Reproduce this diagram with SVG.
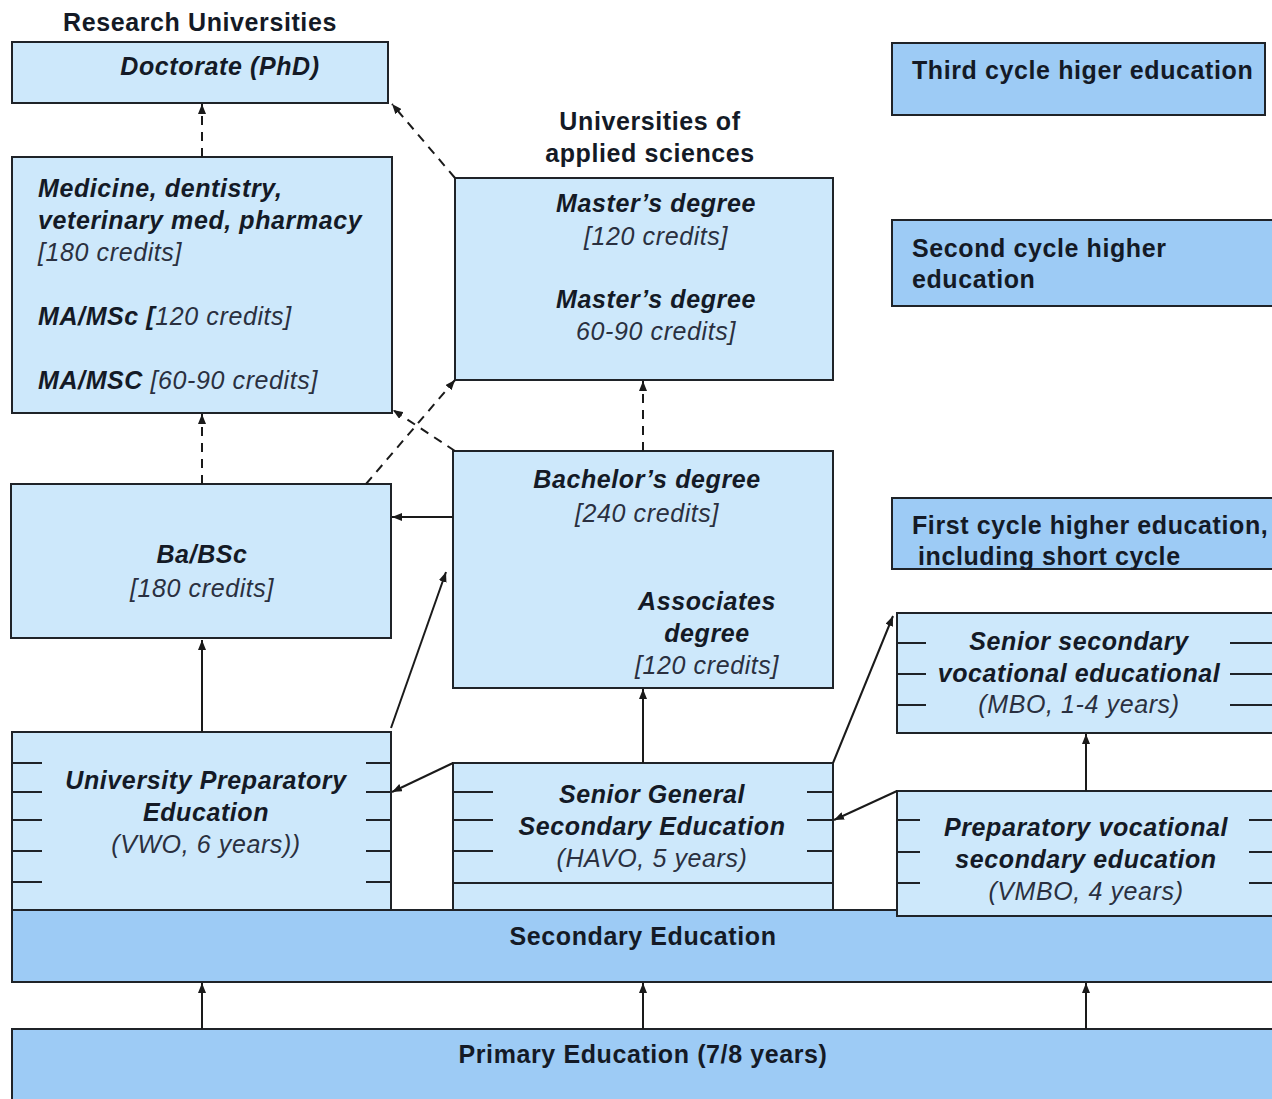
<svg xmlns="http://www.w3.org/2000/svg" width="1272" height="1099" viewBox="0 0 1272 1099">
<defs>
<style>
.lb{fill:#cde8fb;stroke:#1f2328;stroke-width:2}
.db{fill:#9dcbf5;stroke:#1f2328;stroke-width:2}
.t{font-family:"Liberation Sans",Arial,sans-serif;font-size:25px;letter-spacing:0.6px;fill:#141a26}
.bi{font-weight:bold;font-style:italic}
.i{font-style:italic;fill:#2a3040}
.b{font-weight:bold}
.m{text-anchor:middle}
.tick{stroke:#1f2328;stroke-width:2}
.c{stroke:#1a1a1a;stroke-width:2;fill:none;marker-end:url(#ah)}
.d{stroke-dasharray:9,7}
</style>
<marker id="ah" markerUnits="userSpaceOnUse" markerWidth="10" markerHeight="8" refX="10" refY="4" orient="auto">
<path d="M0,0 L10,4 L0,8 z" fill="#1a1a1a"/>
</marker>
</defs>
<rect width="1272" height="1099" fill="#fff"/>

<text class="t b m" x="200" y="31">Research Universities</text>
<text class="t b m" x="650" y="130">Universities of</text>
<text class="t b m" x="650" y="162">applied sciences</text>

<g id="doctorate">
<rect class="lb" x="12" y="42" width="376" height="61"/>
<text class="t bi m" x="220" y="75">Doctorate (PhD)</text>
</g>

<g id="medicine">
<rect class="lb" x="12" y="157" width="380" height="256"/>
<text class="t bi" x="38" y="197">Medicine, dentistry,</text>
<text class="t bi" x="38" y="229">veterinary med, pharmacy</text>
<text class="t i" x="38" y="261">[180 credits]</text>
<text class="t" x="38" y="325"><tspan class="bi">MA/MSc [</tspan><tspan class="i">120 credits]</tspan></text>
<text class="t" x="38" y="389"><tspan class="bi">MA/MSC</tspan><tspan class="i"> [60-90 credits]</tspan></text>
</g>

<g id="masters">
<rect class="lb" x="455" y="178" width="378" height="202"/>
<text class="t bi m" x="656" y="212">Master’s degree</text>
<text class="t i m" x="656" y="245">[120 credits]</text>
<text class="t bi m" x="656" y="308">Master’s degree</text>
<text class="t i m" x="656" y="340">60-90 credits]</text>
</g>

<g id="babsc">
<rect class="lb" x="11" y="484" width="380" height="154"/>
<text class="t bi m" x="202" y="563">Ba/BSc</text>
<text class="t i m" x="202" y="597">[180 credits]</text>
</g>

<g id="bachelor">
<rect class="lb" x="453" y="451" width="380" height="237"/>
<text class="t bi m" x="647" y="488">Bachelor’s degree</text>
<text class="t i m" x="647" y="522">[240 credits]</text>
<text class="t bi m" x="707" y="610">Associates</text>
<text class="t bi m" x="707" y="642">degree</text>
<text class="t i m" x="707" y="674">[120 credits]</text>
</g>

<g id="third-cycle">
<rect class="db" x="892" y="43" width="373" height="72"/>
<text class="t b" x="912" y="79">Third cycle higer education</text>
</g>

<g id="second-cycle">
<rect class="db" x="892" y="220" width="390" height="86"/>
<text class="t b" x="912" y="257">Second cycle higher</text>
<text class="t b" x="912" y="288">education</text>
</g>

<g id="first-cycle">
<rect class="db" x="892" y="498" width="390" height="71"/>
<text class="t b" x="912" y="534">First cycle higher education,</text>
<text class="t b" x="918" y="565">including short cycle</text>
</g>

<g id="mbo">
<rect class="lb" x="897" y="613" width="385" height="120"/>
<path class="tick" d="M897,643H926M897,674H926M897,705H926M1230,643H1272M1230,674H1272M1230,705H1272"/>
<text class="t bi m" x="1079" y="650">Senior secondary</text>
<text class="t bi m" x="1079" y="682">vocational educational</text>
<text class="t i m" x="1079" y="713">(MBO, 1-4 years)</text>
</g>

<g id="secondary">
<rect class="db" x="12" y="910" width="1270" height="72"/>
<text class="t b m" x="643" y="945">Secondary Education</text>
</g>

<g id="upe">
<rect class="lb" x="12" y="732" width="379" height="178"/>
<path class="tick" d="M12,763H42M12,792H42M12,820H42M12,851H42M12,882H42M366,763H391M366,792H391M366,820H391M366,851H391M366,882H391"/>
<text class="t bi m" x="206" y="789">University Preparatory</text>
<text class="t bi m" x="206" y="821">Education</text>
<text class="t i m" x="206" y="853">(VWO, 6 years))</text>
</g>

<g id="havo">
<rect class="lb" x="453" y="763" width="380" height="147"/>
<path class="tick" d="M453,792H493M453,820H493M453,851H493M807,792H833M807,820H833M807,851H833M453,883H833"/>
<text class="t bi m" x="652" y="803">Senior General</text>
<text class="t bi m" x="652" y="835">Secondary Education</text>
<text class="t i m" x="652" y="867">(HAVO, 5 years)</text>
</g>

<g id="vmbo">
<rect class="lb" x="897" y="791" width="385" height="125"/>
<path class="tick" d="M897,820H920M897,852H920M897,883H920M1249,820H1272M1249,852H1272M1249,883H1272"/>
<text class="t bi m" x="1086" y="836">Preparatory vocational</text>
<text class="t bi m" x="1086" y="868">secondary education</text>
<text class="t i m" x="1086" y="900">(VMBO, 4 years)</text>
</g>

<g id="primary">
<rect class="db" x="12" y="1029" width="1270" height="80"/>
<text class="t b m" x="643" y="1063">Primary Education (7/8 years)</text>
</g>

<g id="connectors">
<path class="c d" d="M202,157L202,104"/>
<path class="c d" d="M455,178L392,104"/>
<path class="c d" d="M202,484L202,414"/>
<path class="c d" d="M366,484L455,380"/>
<path class="c d" d="M455,451L393,410"/>
<path class="c d" d="M643,451L643,381"/>
<path class="c" d="M453,517L392,517"/>
<path class="c" d="M202,732L202,640"/>
<path class="c" d="M391,728L446,572"/>
<path class="c" d="M453,763L392,792"/>
<path class="c" d="M643,763L643,689"/>
<path class="c" d="M833,763L893,616"/>
<path class="c" d="M897,791L834,820"/>
<path class="c" d="M1086,791L1086,734"/>
<path class="c" d="M202,1029L202,983"/>
<path class="c" d="M643,1029L643,983"/>
<path class="c" d="M1086,1029L1086,983"/>
</g>
</svg>
